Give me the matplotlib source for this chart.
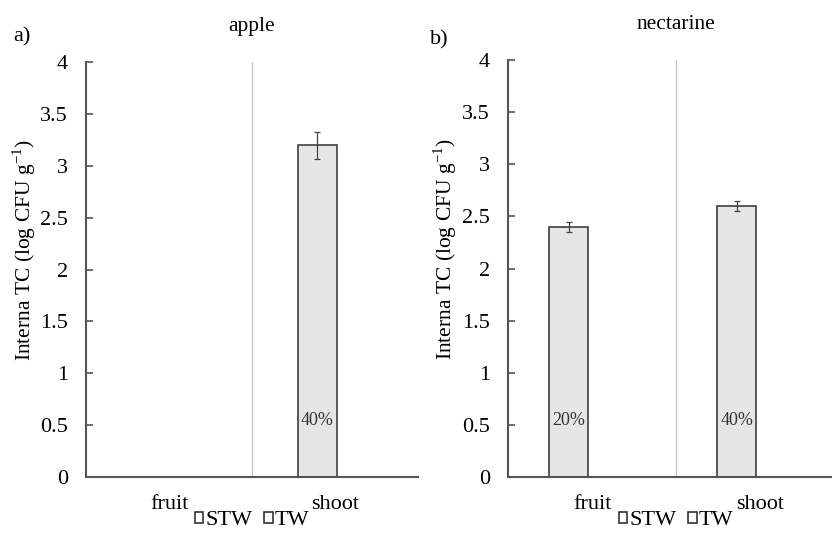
import matplotlib.pyplot as plt
from matplotlib.patches import Patch
import numpy as np

plt.rcParams['font.family'] = ['Liberation Serif', 'DejaVu Serif']

categories = ['fruit', 'shoot']
apple_stw = [0, 3.2]
apple_stw_err = [0, 0.13]
apple_tw = [0, 0]
nect_stw = [2.4, 2.6]
nect_stw_err = [0.05, 0.05]
nect_tw = [0, 0]
apple_pct = ['', '40%']
nect_pct = ['20%', '40%']

fig = plt.figure(figsize=(8.32, 5.37), dpi=100)
ax1 = fig.add_axes([0.1034, 0.1117, 0.399, 0.7728])
ax2 = fig.add_axes([0.6106, 0.1117, 0.404, 0.7765])

bar_fill = '#e6e6e6'
edge = '#3f3f3f'
w = 0.235
x = np.arange(len(categories))

panels = [(ax1, apple_stw, apple_stw_err, apple_tw, apple_pct, 'apple', -0.012),
          (ax2, nect_stw, nect_stw_err, nect_tw, nect_pct, 'nectarine', 0.022)]

for ax, stw, err, tw, pct, title, off in panels:
    for i in range(len(categories)):
        xc = x[i] - w / 2 - off
        if stw[i] > 0:
            ax.bar(xc, stw[i], w, color=bar_fill, edgecolor=edge, linewidth=1.2,
                   yerr=err[i], error_kw=dict(ecolor='#444444', elinewidth=0.9, capsize=2.5, capthick=0.9))
        if tw[i] > 0:
            ax.bar(x[i] + w / 2, tw[i], w, color='white', edgecolor=edge, linewidth=1.2)
        if pct[i]:
            ax.text(xc, 0.54, pct[i], ha='center', va='center', fontsize=13, color='#333333')
    ax.axvline(0.5, color='#c8c8c8', linewidth=1.0)
    ax.set_xlim(-0.5, 1.5)
    ax.set_ylim(0, 4)
    ax.set_yticks(np.arange(0, 4.01, 0.5))
    ax.set_yticklabels(['0', '0.5', '1', '1.5', '2', '2.5', '3', '3.5', '4'])
    ax.set_xticks(x)
    ax.set_xticklabels(categories)
    ax.tick_params(axis='y', direction='in', length=5, width=1.2, color='#555555', labelsize=16, pad=13)
    ax.tick_params(axis='x', length=0, labelsize=16, pad=13)
    for s in ['top', 'right']:
        ax.spines[s].set_visible(False)
    for s in ['left', 'bottom']:
        ax.spines[s].set_color('#555555')
        ax.spines[s].set_linewidth(1.5)
    ax.set_ylabel('Interna TC (log CFU g$^{\\mathregular{-1}}$)', fontsize=15.5)
    ax.yaxis.set_label_coords(-0.145, 0.547)
    ax.set_title(title, fontsize=15.5, pad=22)
    handles = [Patch(facecolor='white', edgecolor='#333333', linewidth=1.2, label='STW'),
               Patch(facecolor='white', edgecolor='#333333', linewidth=1.2, label='TW')]
    ax.legend(handles=handles, loc='center', bbox_to_anchor=(0.5, -0.105),
              ncol=2, frameon=False, handlelength=0.4, handleheight=0.4, handletextpad=0.1,
              columnspacing=0.5, fontsize=16, borderpad=0)

fig.text(13 / 832, 1 - 37 / 537, 'a)', fontsize=16, va='center')
fig.text(430 / 832, 1 - 40 / 537, 'b)', fontsize=16, va='center')

plt.savefig('out.png', dpi=100)
